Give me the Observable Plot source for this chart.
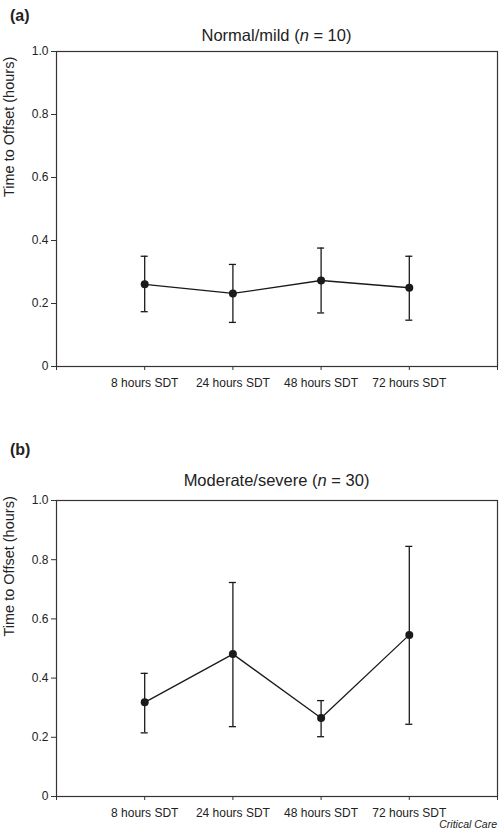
<!DOCTYPE html>
<html>
<head>
<meta charset="utf-8">
<script src="https://cdn.jsdelivr.net/npm/d3@7"></script>
<script src="https://cdn.jsdelivr.net/npm/@observablehq/plot@0.6"></script>
<style>
  html, body { margin: 0; padding: 0; background: #fff; }
  #wrap { position: relative; width: 500px; height: 833px; font-family: "Liberation Sans", Arial, sans-serif; color: #222; }
  .abs { position: absolute; white-space: nowrap; z-index: 2; }
  .panel { font-weight: bold; font-size: 16px; left: 10px; }
  .title { font-size: 16.5px; width: 441px; left: 56px; text-align: center; }
  .caption { font-size: 10.5px; font-style: italic; right: 3px; top: 818px; }
</style>
</head>
<body>
<div id="wrap">
  <div class="abs panel" style="top:7px">(a)</div>
  <div class="abs title" style="top:26px">Normal/mild (<i>n</i> = 10)</div>
  <div class="abs panel" style="top:441px">(b)</div>
  <div class="abs title" style="top:471px">Moderate/severe (<i>n</i> = 30)</div>
  <div class="abs caption">Critical Care</div>
</div>
<script>
const categories = ["8 hours SDT", "24 hours SDT", "48 hours SDT", "72 hours SDT"];
const yTicks = [0, 0.2, 0.4, 0.6, 0.8, 1.0];
const yLabel = "Time to Offset (hours)";

const meanA = [0.261, 0.232, 0.273, 0.250];
const lowA  = [0.174, 0.140, 0.170, 0.147];
const highA = [0.350, 0.324, 0.376, 0.350];

const meanB = [0.318, 0.481, 0.265, 0.546];
const lowB  = [0.215, 0.236, 0.202, 0.244];
const highB = [0.416, 0.723, 0.324, 0.845];

function rows(mean, low, high) {
  return categories.map((c, i) => ({pos: i + 1, cat: c, mean: mean[i], low: low[i], high: high[i]}));
}

function panel(data, top, marginTop, plotH, marginBottom) {
  const cap = 0.04;
  const ink = "#1a1a1a";
  const svg = Plot.plot({
    width: 500,
    height: marginTop + plotH + marginBottom,
    marginTop,
    marginBottom,
    marginLeft: 56,
    marginRight: 3,
    style: {fontFamily: "Liberation Sans, Arial, sans-serif", fontSize: "12px", color: "#333", background: "transparent"},
    x: {type: "linear", domain: [0, categories.length + 1]},
    y: {domain: [0, 1]},
    marks: [
      Plot.frame({stroke: "#333", strokeWidth: 1.2}),
      Plot.axisX({
        ticks: d3.range(0, categories.length + 2),
        tickFormat: d => categories[d - 1] ?? "",
        tickSize: 4, tickPadding: 8, label: null, stroke: "#333", color: "#222"
      }),
      Plot.axisY({
        ticks: yTicks,
        tickFormat: d => d === 0 ? "0" : d.toFixed(1),
        tickSize: 5, tickPadding: 3, label: null,
        stroke: "#333", color: "#222"
      }),
      Plot.text([yLabel], {
        text: d => d, frameAnchor: "left", rotate: -90,
        dx: -47, dy: -12, fontSize: 14.5, fill: "#222"
      }),
      Plot.ruleX(data, {x: "pos", y1: "low", y2: "high", stroke: ink, strokeWidth: 1.3}),
      Plot.ruleY(data, {y: "high", x1: d => d.pos - cap, x2: d => d.pos + cap, stroke: ink, strokeWidth: 1.3}),
      Plot.ruleY(data, {y: "low", x1: d => d.pos - cap, x2: d => d.pos + cap, stroke: ink, strokeWidth: 1.3}),
      Plot.line(data, {x: "pos", y: "mean", stroke: ink, strokeWidth: 1.3}),
      Plot.dot(data, {x: "pos", y: "mean", r: 4, fill: ink, stroke: "none"})
    ]
  });
  svg.style.position = "absolute";
  svg.style.left = "0px";
  svg.style.top = top + "px";
  svg.style.zIndex = "1";
  svg.style.overflow = "visible";
  document.getElementById("wrap").appendChild(svg);
}

panel(rows(meanA, lowA, highA), 40, 11, 315, 30);
panel(rows(meanB, lowB, highB), 488, 12, 296, 28);
</script>
</body>
</html>
